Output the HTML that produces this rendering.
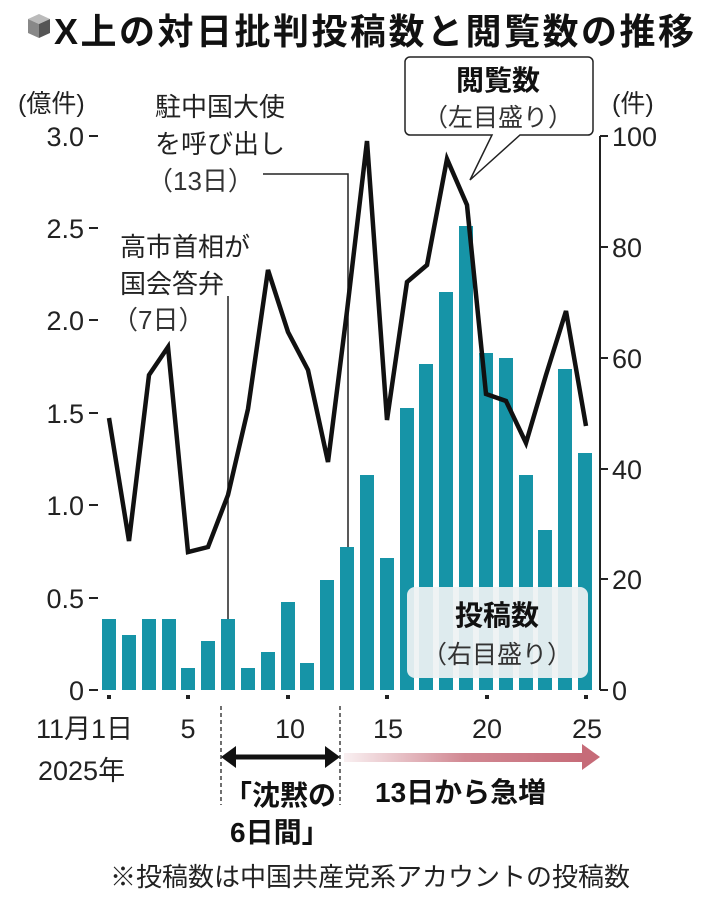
<!DOCTYPE html>
<html><head><meta charset="utf-8"><style>
body{margin:0;background:#fff;}
svg text{font-family:"Liberation Sans","Noto Sans CJK JP",sans-serif;}
</style></head><body>
<svg width="716" height="896" viewBox="0 0 716 896" xmlns="http://www.w3.org/2000/svg">
<defs>
<linearGradient id="pg" x1="0" x2="1"><stop offset="0" stop-color="#c66b78" stop-opacity="0.1"/><stop offset="0.5" stop-color="#c66b78" stop-opacity="0.8"/><stop offset="1" stop-color="#c66b78"/></linearGradient>
</defs>
<g transform="translate(28,14)">
<polygon points="11,0 22,5 11,10 0,5" fill="#bbb"/>
<polygon points="0,5 11,10 11,24 0,19" fill="#888"/>
<polygon points="22,5 11,10 11,24 22,19" fill="#555"/>
</g>
<text x="54" y="44" font-size="36" font-weight="bold" fill="#111" letter-spacing="2.5">X上の対日批判投稿数と閲覧数の推移</text>

<text x="18" y="112" font-size="25" fill="#222">(億件)</text>
<text x="612" y="112" font-size="25" fill="#222">(件)</text>

<g font-size="27" fill="#222" text-anchor="end">
<text x="84" y="146">3.0</text><text x="84" y="238">2.5</text><text x="84" y="330">2.0</text>
<text x="84" y="423">1.5</text><text x="84" y="515">1.0</text><text x="84" y="608">0.5</text>
<text x="84" y="700">0</text>
</g>
<g stroke="#222" stroke-width="2">
<line x1="89" y1="136" x2="98" y2="136"/><line x1="89" y1="228" x2="98" y2="228"/>
<line x1="89" y1="320" x2="98" y2="320"/><line x1="89" y1="413" x2="98" y2="413"/>
<line x1="89" y1="505" x2="98" y2="505"/><line x1="89" y1="598" x2="98" y2="598"/>
<line x1="89" y1="690" x2="98" y2="690"/>
<line x1="600" y1="136" x2="600" y2="690"/>
<line x1="600" y1="136" x2="608" y2="136"/><line x1="600" y1="247" x2="608" y2="247"/>
<line x1="600" y1="358" x2="608" y2="358"/><line x1="600" y1="469" x2="608" y2="469"/>
<line x1="600" y1="579" x2="608" y2="579"/><line x1="600" y1="690" x2="608" y2="690"/>
</g>
<g font-size="27" fill="#222">
<text x="612" y="146">100</text><text x="612" y="257">80</text><text x="612" y="368">60</text>
<text x="612" y="479">40</text><text x="612" y="589">20</text><text x="612" y="700">0</text>
</g>

<g fill="#1694a7">
<rect x="102" y="619" width="14" height="71"/>
<rect x="122" y="635" width="14" height="55"/>
<rect x="142" y="619" width="14" height="71"/>
<rect x="162" y="619" width="14" height="71"/>
<rect x="181" y="668" width="14" height="22"/>
<rect x="201" y="641" width="14" height="49"/>
<rect x="221" y="619" width="14" height="71"/>
<rect x="241" y="668" width="14" height="22"/>
<rect x="261" y="652" width="14" height="38"/>
<rect x="281" y="602" width="14" height="88"/>
<rect x="300" y="663" width="14" height="27"/>
<rect x="320" y="580" width="14" height="110"/>
<rect x="340" y="547" width="14" height="143"/>
<rect x="360" y="475" width="14" height="215"/>
<rect x="380" y="558" width="14" height="132"/>
<rect x="400" y="408" width="14" height="282"/>
<rect x="419" y="364" width="14" height="326"/>
<rect x="439" y="292" width="14" height="398"/>
<rect x="459" y="226" width="14" height="464"/>
<rect x="479" y="353" width="14" height="337"/>
<rect x="499" y="358" width="14" height="332"/>
<rect x="519" y="475" width="14" height="215"/>
<rect x="538" y="530" width="14" height="160"/>
<rect x="558" y="369" width="14" height="321"/>
<rect x="578" y="453" width="14" height="237"/>
</g>

<rect x="407" y="587" width="181" height="91" rx="8" fill="#eef2f3" fill-opacity="0.93"/>
<text x="497" y="625" font-size="28" font-weight="bold" fill="#111" text-anchor="middle">投稿数</text>
<text x="497" y="663" font-size="25" fill="#333" text-anchor="middle">（右目盛り）</text>

<g stroke="#222" stroke-width="1.5" fill="none">
<polyline points="228,296 228,619"/>
<polyline points="263,174 348,174 348,547"/>
</g>

<polyline fill="none" stroke="#111" stroke-width="4.5" stroke-linejoin="miter"
points="109,418 129,541 149,375 168,347 188,552 208,547 228,495 248,409 268,270 288,332 308,370 328,462 347,311 367,141 387,420 407,282 427,265 447,159 467,205 486,394 506,401 526,443 546,375 566,311 586,426"/>

<path d="M410,57 H588 a5,5 0 0 1 5,5 V130 a5,5 0 0 1 -5,5 H520 L470,180 L492,135 H410 a5,5 0 0 1 -5,-5 V62 a5,5 0 0 1 5,-5 Z" fill="#fff" stroke="#222" stroke-width="1.5"/>
<text x="498" y="90" font-size="28" font-weight="bold" fill="#111" text-anchor="middle">閲覧数</text>
<text x="498" y="126" font-size="25" fill="#333" text-anchor="middle">（左目盛り）</text>

<g font-size="26" fill="#222">
<text x="155" y="116">駐中国大使</text>
<text x="155" y="153">を呼び出し</text>
<text x="147" y="190" fill="#333">（13日）</text>
<text x="120" y="256">高市首相が</text>
<text x="120" y="293">国会答弁</text>
<text x="112" y="329" fill="#333">（7日）</text>
</g>

<g fill="#222">
<rect x="107" y="695" width="4" height="4"/><rect x="186" y="695" width="4" height="4"/>
<rect x="286" y="695" width="4" height="4"/><rect x="385" y="695" width="4" height="4"/>
<rect x="485" y="695" width="4" height="4"/><rect x="584" y="695" width="4" height="4"/>
</g>
<g font-size="27" fill="#222">
<text x="36" y="738">11月1日</text>
<text x="188" y="738" text-anchor="middle">5</text>
<text x="290" y="738" text-anchor="middle">10</text>
<text x="388" y="738" text-anchor="middle">15</text>
<text x="487" y="738" text-anchor="middle">20</text>
<text x="587" y="738" text-anchor="middle">25</text>
<text x="38" y="780">2025年</text>
</g>
<g stroke="#222" stroke-width="1.3" stroke-dasharray="4,3">
<line x1="221" y1="706" x2="221" y2="805"/><line x1="340" y1="706" x2="340" y2="805"/>
</g>
<line x1="230" y1="757" x2="332" y2="757" stroke="#111" stroke-width="5"/>
<polygon points="221,757 236,746 236,768" fill="#111"/>
<polygon points="340,757 325,746 325,768" fill="#111"/>
<rect x="344" y="753" width="240" height="9" fill="url(#pg)"/>
<polygon points="600,757 582,744 582,770" fill="#c66b78"/>
<g font-size="28" font-weight="bold" fill="#111">
<text x="224" y="805">「沈黙の</text>
<text x="230" y="842">6日間」</text>
<text x="375" y="802">13日から急増</text>
</g>
<text x="110" y="886" font-size="26" fill="#222">※投稿数は中国共産党系アカウントの投稿数</text>
</svg>
</body></html>
